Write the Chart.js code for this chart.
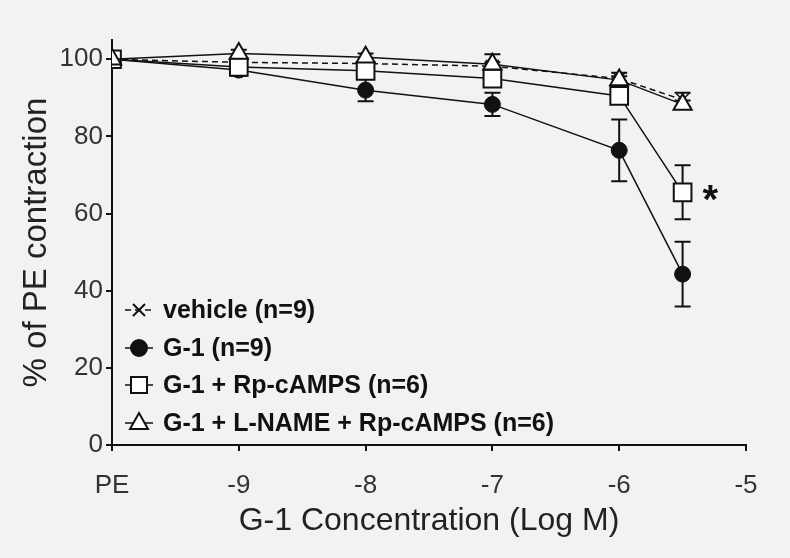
<!DOCTYPE html>
<html>
<head>
<meta charset="utf-8">
<script src="https://cdn.jsdelivr.net/npm/chart.js@4.4.0/dist/chart.umd.min.js"></script>
<style>
  html, body { margin: 0; padding: 0; background: #f2f2f2; }
  canvas { display: block; }
</style>
</head>
<body>
<canvas id="chart" width="790" height="558"></canvas>
<script>
// x positions (log M), PE baseline drawn at -10
const concentrations = [-10, -9, -8, -7, -6, -5.5];
const xTickValues = [-10, -9, -8, -7, -6, -5];
const xTickLabels = ['PE', '-9', '-8', '-7', '-6', '-5'];
const yTickValues = [0, 20, 40, 60, 80, 100];

const vehicle = [100, 99.2, 98.9, 98.2, 95, 89.5];
const vehicleErr = [0, 0.8, 0.8, 1, 1.5, 1.8];
const g1 = [100, 97.2, 92, 88.3, 76.4, 44.3];
const g1Err = [0, 1.5, 2.9, 3, 8, 8.4];
const g1Rp = [100, 98, 97, 95, 90.5, 65.5];
const g1RpErr = [0, 1, 1, 1, 1.2, 7];
const g1LnameRp = [100, 101.5, 100.5, 98.7, 94.6, 88.3];
const g1LnameRpErr = [0, 1, 1, 2.6, 1, 1];

const seriesLabels = [
    'vehicle (n=9)',
    'G-1 (n=9)',
    'G-1 + Rp-cAMPS (n=6)',
    'G-1 + L-NAME + Rp-cAMPS (n=6)',
];

const ink = '#111';
const fontFamily = '"Liberation Sans", Arial, sans-serif';

const toPoints = (ys, errs) => concentrations.map((x, i) => ({ x: x, y: ys[i], err: errs[i] }));

// error bars, drawn under the markers
const errorBars = {
    id: 'errorBars',
    beforeDatasetsDraw(chart) {
        const { ctx, scales: { x, y } } = chart;
        ctx.save();
        ctx.strokeStyle = ink;
        ctx.lineWidth = 2;
        chart.data.datasets.forEach(ds => {
            ds.data.forEach(p => {
                if (!p.err) return;
                const px = x.getPixelForValue(p.x);
                const top = y.getPixelForValue(p.y + p.err);
                const bot = y.getPixelForValue(p.y - p.err);
                ctx.beginPath();
                ctx.moveTo(px, top); ctx.lineTo(px, bot);
                ctx.moveTo(px - 8, top); ctx.lineTo(px + 8, top);
                ctx.moveTo(px - 8, bot); ctx.lineTo(px + 8, bot);
                ctx.stroke();
            });
        });
        ctx.restore();
    }
};

function drawMarker(ctx, style, cx, cy) {
    ctx.beginPath();
    if (style === 'crossRot') {
        ctx.moveTo(cx - 6, cy - 6); ctx.lineTo(cx + 6, cy + 6);
        ctx.moveTo(cx + 6, cy - 6); ctx.lineTo(cx - 6, cy + 6);
        ctx.stroke();
        return;
    }
    if (style === 'circle') {
        ctx.arc(cx, cy, 8, 0, Math.PI * 2);
        ctx.fillStyle = ink;
    } else if (style === 'rect') {
        ctx.rect(cx - 8, cy - 8, 16, 16);
        ctx.fillStyle = '#fff';
    } else {
        ctx.moveTo(cx, cy - 10);
        ctx.lineTo(cx + 9, cy + 6);
        ctx.lineTo(cx - 9, cy + 6);
        ctx.closePath();
        ctx.fillStyle = '#fff';
    }
    ctx.fill();
    ctx.stroke();
}

// legend inside the plot, bottom left
const insideLegend = {
    id: 'insideLegend',
    afterDraw(chart) {
        const { ctx } = chart;
        const rows = [310, 348, 385, 423];
        const mx = 139;
        ctx.save();
        ctx.strokeStyle = ink;
        ctx.lineWidth = 2;
        chart.data.datasets.forEach((ds, i) => {
            const cy = rows[i];
            ctx.beginPath();
            ctx.setLineDash(ds.borderDash || []);
            ctx.lineWidth = 1.5;
            ctx.moveTo(mx - 14, cy); ctx.lineTo(mx + 14, cy);
            ctx.stroke();
            ctx.setLineDash([]);
            ctx.lineWidth = 2;
            drawMarker(ctx, ds.pointStyle, mx, cy);
            ctx.fillStyle = ink;
            ctx.font = 'bold 25px ' + fontFamily;
            ctx.textBaseline = 'middle';
            ctx.textAlign = 'left';
            ctx.fillText(seriesLabels[i], 163, cy + 1);
        });
        // significance mark
        const x = chart.scales.x.getPixelForValue(-5.5);
        const y = chart.scales.y.getPixelForValue(g1Rp[5]);
        ctx.font = 'bold 40px ' + fontFamily;
        ctx.textAlign = 'left';
        ctx.fillText('*', x + 20, y + 10);
        ctx.restore();
    }
};

new Chart(document.getElementById('chart'), {
    type: 'line',
    data: {
        datasets: [
            {
                label: seriesLabels[0],
                data: toPoints(vehicle, vehicleErr),
                borderColor: ink,
                borderWidth: 1.5,
                borderDash: [6, 4],
                pointStyle: 'crossRot',
                pointRadius: 9,
                pointBorderWidth: 1.5,
                pointBorderColor: ink,
                order: 3,
            },
            {
                label: seriesLabels[1],
                data: toPoints(g1, g1Err),
                borderColor: ink,
                borderWidth: 1.5,
                pointStyle: 'circle',
                pointRadius: 8,
                pointBackgroundColor: ink,
                pointBorderColor: ink,
                pointBorderWidth: 1,
                order: 2,
            },
            {
                label: seriesLabels[2],
                data: toPoints(g1Rp, g1RpErr),
                borderColor: ink,
                borderWidth: 1.5,
                pointStyle: 'rect',
                pointRadius: 12.5,
                pointBackgroundColor: '#fff',
                pointBorderColor: ink,
                pointBorderWidth: 2,
                order: 1,
            },
            {
                label: seriesLabels[3],
                data: toPoints(g1LnameRp, g1LnameRpErr),
                borderColor: ink,
                borderWidth: 1.5,
                pointStyle: 'triangle',
                pointRadius: 10.5,
                pointBackgroundColor: '#fff',
                pointBorderColor: ink,
                pointBorderWidth: 2,
                order: 0,
            },
        ],
    },
    options: {
        responsive: false,
        animation: false,
        layout: { padding: { top: 40, right: 44, left: 0, bottom: 0 } },
        plugins: { legend: { display: false }, tooltip: { enabled: false } },
        scales: {
            x: {
                type: 'linear',
                min: -10,
                max: -5,
                afterFit: s => { s.height = 113; },
                afterBuildTicks: s => { s.ticks = xTickValues.map(v => ({ value: v })); },
                grid: { drawOnChartArea: false, tickLength: 6, color: ink, lineWidth: 2 },
                border: { color: ink, width: 2 },
                ticks: {
                    color: '#333',
                    font: { family: fontFamily, size: 26 },
                    padding: 19,
                    maxRotation: 0,
                    callback: v => xTickLabels[xTickValues.indexOf(v)],
                },
                title: {
                    display: true,
                    text: 'G-1 Concentration (Log M)',
                    color: '#222',
                    font: { family: fontFamily, size: 32 },
                    padding: { top: 0, bottom: 18 },
                },
            },
            y: {
                min: 0,
                max: 105,
                afterFit: s => { s.width = 112; },
                afterBuildTicks: s => { s.ticks = yTickValues.map(v => ({ value: v })); },
                grid: { drawOnChartArea: false, tickLength: 6, color: ink, lineWidth: 2 },
                border: { color: ink, width: 2 },
                ticks: {
                    color: '#333',
                    font: { family: fontFamily, size: 26 },
                    padding: 3,
                },
                title: {
                    display: true,
                    text: '% of PE contraction',
                    color: '#222',
                    font: { family: fontFamily, size: 33 },
                    padding: { top: 17, bottom: 0 },
                },
            },
        },
    },
    plugins: [errorBars, insideLegend],
});
</script>
</body>
</html>
